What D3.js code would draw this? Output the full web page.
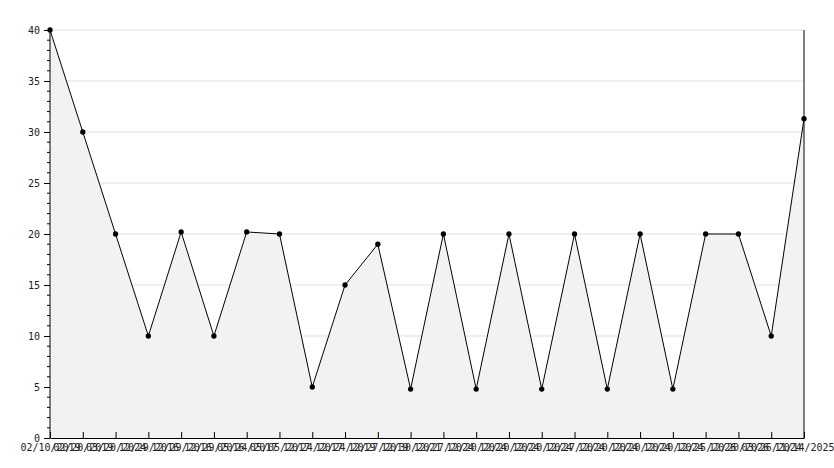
<!DOCTYPE html>
<html>
<head>
<meta charset="utf-8">
<script src="https://cdn.jsdelivr.net/npm/d3@7"></script>
<style>
    body { margin: 0; background: #fff; }
    text { font-family: "DejaVu Sans Mono", monospace; font-size: 10px; fill: #222; }
</style>
</head>
<body>
<div id="chart"></div>
<script>
// dates are mostly illegible in the reference (labels overlap), best guesses
const dates = [
    '02/10/2019', '02/20/2019', '03/20/2024', '12/29/2016', '12/29/2016', '12/29/2016',
    '05/24/2017', '05/05/2017', '12/24/2017', '12/24/2019', '12/27/2019', '12/30/2021',
    '12/27/2024', '12/20/2024', '12/20/2024', '12/20/2024', '12/27/2024', '12/20/2024',
    '12/20/2024', '12/20/2024', '12/25/2026', '12/20/2026', '03/26/2024', '11/14/2025'
];
const values = [40, 30, 20, 10, 20.2, 10, 20.2, 20, 5, 15, 19, 4.8,
    20, 4.8, 20, 4.8, 20, 4.8, 20, 4.8, 20, 20, 10, 31.3];
const yTicks = [0, 5, 10, 15, 20, 25, 30, 35, 40];

const W = 834, H = 468;
const margin = {top: 30, right: 30, bottom: 30, left: 50};

const svg = d3.select('#chart').append('svg')
    .attr('width', W).attr('height', H);

const x = d3.scalePoint()
    .domain(d3.range(dates.length))
    .range([margin.left, W - margin.right]);
const y = d3.scaleLinear()
    .domain([0, 40])
    .range([H - margin.bottom, margin.top]);

// gridlines
svg.append('g').selectAll('line')
    .data(yTicks.filter((d) => d > 0))
    .enter().append('line')
    .attr('x1', margin.left).attr('x2', W - margin.right)
    .attr('y1', (d) => y(d)).attr('y2', (d) => y(d))
    .attr('stroke', '#e0e0e0');

const area = d3.area()
    .x((d, i) => x(i))
    .y0(y(0))
    .y1((d) => y(d));
svg.append('path').datum(values)
    .attr('d', area)
    .attr('fill', '#f2f2f2');

const line = d3.line()
    .x((d, i) => x(i))
    .y((d) => y(d));
svg.append('path').datum(values)
    .attr('d', line)
    .attr('fill', 'none')
    .attr('stroke', '#000')
    .attr('stroke-width', 1);

svg.append('g').selectAll('path')
    .data(values)
    .enter().append('path')
    .attr('d', d3.symbol(d3.symbolCircle, 22))
    .attr('transform', (d, i) => 'translate(' + x(i) + ',' + y(d) + ')')
    .attr('fill', '#000');

// y axis with minor ticks
const yAxis = d3.axisLeft(y).tickValues(yTicks).tickSize(6).tickPadding(4);
const gy = svg.append('g')
    .attr('transform', 'translate(' + margin.left + ',0)')
    .call(yAxis);
gy.select('.domain').attr('d', 'M0,' + y(40) + 'V' + y(0));
svg.append('g').selectAll('line')
    .data(d3.range(0, 40, 1).filter((d) => d % 5 !== 0))
    .enter().append('line')
    .attr('x1', margin.left - 3).attr('x2', margin.left)
    .attr('y1', (d) => y(d)).attr('y2', (d) => y(d))
    .attr('stroke', '#000');

// x axis, ticks point up
const xAxis = d3.axisBottom(x)
    .tickFormat((i) => dates[i])
    .tickSizeInner(-6).tickSizeOuter(0).tickPadding(4);
const gx = svg.append('g')
    .attr('transform', 'translate(0,' + y(0) + ')')
    .call(xAxis);
gx.selectAll('text').attr('dy', '0.9em');

// right border
svg.append('line')
    .attr('x1', W - margin.right).attr('x2', W - margin.right)
    .attr('y1', y(40)).attr('y2', y(0))
    .attr('stroke', '#000');
svg.selectAll('.domain').attr('stroke', '#000');
</script>
</body>
</html>
